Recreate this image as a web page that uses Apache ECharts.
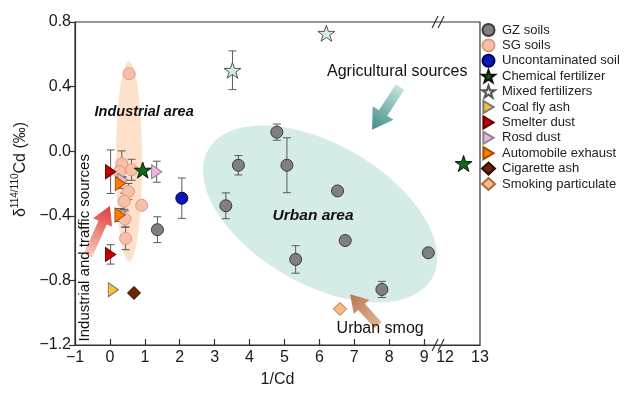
<!DOCTYPE html>
<html><head><meta charset="utf-8">
<script src="https://cdn.jsdelivr.net/npm/echarts@6/dist/echarts.min.js"></script>
<style>html,body{margin:0;padding:0;background:#fff;}#c{width:636px;height:393px;}</style>
</head><body><div id="c"></div>
<script>
// ---------- DATA ----------
const xTickValues = [-1,0,1,2,3,4,5,6,7,8,9,12,13];
const yTickValues = [-1.2,-0.8,-0.4,0.0,0.4,0.8];
const seriesNames = ['GZ soils','SG soils','Uncontaminated soil','Chemical fertilizer','Mixed fertilizers','Coal fly ash','Smelter dust','Rosd dust','Automobile exhaust','Cigarette ash','Smoking particulate'];

const gzX   = [1.36, 3.32, 3.68, 4.78, 5.07, 5.32, 6.52, 6.74, 7.79, 9.12];
const gzY   = [-0.486,-0.338,-0.087,0.118,-0.087,-0.670,-0.246,-0.553,-0.856,-0.629];
const gzErr = [0.08, 0.08, 0.06, 0.05, 0.17, 0.085, 0.02, 0.01, 0.05, 0.02];

const sgX   = [0.55, 0.34, 0.62, 0.27, 0.53, 0.41, 0.91, 0.43, 0.45];
const sgY   = [0.48, -0.078,-0.115,-0.127,-0.25,-0.31,-0.335,-0.42,-0.54];
const sgErr = [0.02, 0.08, 0.065, 0.03, 0.05, 0.05, 0.02, 0.05, 0.07];

const ucX = [2.06],  ucY = [-0.291], ucErr = [0.125];
const cfX = [0.94, 12.53], cfY = [-0.117, -0.076], cfErr = [0, 0];
const mfX = [3.51, 6.2],  mfY = [0.501, 0.73],   mfErr = [0.12, 0];
const coalX = [0.10], coalY = [-0.858], coalErr = [0];
const smX = [0.02, 0.02], smY = [-0.127, -0.639], smErr = [0.135, 0.06];
const rdX = [1.34, 0.37], rdY = [-0.127, -0.18],  rdErr = [0.065, 0.02];
const aeX = [0.30, 0.29], aeY = [-0.20, -0.395],  aeErr = [0.03, 0.04];
const caX = [0.69], caY = [-0.878], caErr = [0];
const spX = [6.59], spY = [-0.977], spErr = [0];

// ---------- AXIS BREAK (9 | 12) ----------
const BREAK_AT = 12, BREAK_SHIFT = 2.4, BREAK_MARK = 9.4;
const bx = v => v >= BREAK_AT ? v - BREAK_SHIFT : v;

// ---------- STYLES ----------
const FONT = 'Liberation Sans, Arial, sans-serif';
const STAR = 'path://M50,0 L61.8,35.1 L98.9,35.1 L69.1,56.7 L80.9,91.9 L50,70.2 L19.1,91.9 L30.9,56.7 L1.1,35.1 L38.2,35.1 Z';
const TRI = 'path://M0,0 L17,10 L0,20 Z';
const groups = [
  {x:gzX,y:gzY,e:gzErr, sym:'circle', size:12, fill:'#808080', stroke:'#3a3a3a', z:4},
  {x:sgX,y:sgY,e:sgErr, sym:'circle', size:12, fill:'#f8bfa9', stroke:'#dc9a82', z:3},
  {x:ucX,y:ucY,e:ucErr, sym:'circle', size:12, fill:'#0b17b0', stroke:'#000055', z:4},
  {x:cfX,y:cfY,e:cfErr, sym:STAR, size:17, fill:'#0a6a15', stroke:'#111', z:5},
  {x:mfX,y:mfY,e:mfErr, sym:STAR, size:17, fill:'#d2efe6', stroke:'#555', z:5},
  {x:coalX,y:coalY,e:coalErr, sym:TRI, size:[12,14], fill:'#f6c232', stroke:'#777', z:5},
  {x:smX,y:smY,e:smErr, sym:TRI, size:[12,14], fill:'#c40000', stroke:'#6a0000', z:5},
  {x:rdX,y:rdY,e:rdErr, sym:TRI, size:[12,14], fill:'#f5b0e2', stroke:'#888', z:5},
  {x:aeX,y:aeY,e:aeErr, sym:TRI, size:[12,14], fill:'#ff7c00', stroke:'#a84f00', z:5},
  {x:caX,y:caY,e:caErr, sym:'diamond', size:13, fill:'#6b2405', stroke:'#2e0c00', z:5},
  {x:spX,y:spY,e:spErr, sym:'diamond', size:13, fill:'#fdbb84', stroke:'#a86a3c', z:5}
];

// annotation shapes (in data coordinates, sizes in px)
const ellipses = [
  {c:[0.547,-0.064], a:100, b:13, rot:90, fill:'#fde1cb'},
  {c:[6.02,-0.389],  a:129, b:70, rot:30, fill:'#d4ebe7'}
];
const arrows = [
  {from:[8.31,0.397],  to:[7.51,0.133],  shaft:10, head:25, len:20, c0:'#c3e2dd', c1:'#3f8e88'},
  {from:[-0.63,-0.647],to:[0.0,-0.34],   shaft:9,  head:21, len:18, c0:'#f7cdc2', c1:'#dc3b36'},
  {from:[7.68,-1.077], to:[6.88,-0.886], shaft:9,  head:21, len:17, c0:'#dfb393', c1:'#b97750'}
];
const notes = [
  {t:'Industrial area', p:[0.98,0.243], font:'italic bold 14.5px '+FONT},
  {t:'Urban area', p:[5.82,-0.401], font:'italic bold 15.5px '+FONT},
  {t:'Agricultural sources', p:[8.23,0.495], font:'16px '+FONT},
  {t:'Urban smog', p:[7.74,-1.101], font:'16px '+FONT},
  {t:'Industrial and traffic sources', p:[-0.713,-0.598], font:'15px '+FONT, rot:90}
];

const chart = echarts.init(document.getElementById('c'));
const series = [];

series.push({
  type:'custom', name:'ellipses', z:1, silent:true, clip:false,
  data: ellipses.map((e,i)=>[e.c[0], e.c[1], i]),
  renderItem:(params, api)=>{
    const e = ellipses[api.value(2)];
    const c = api.coord([api.value(0), api.value(1)]);
    const th = e.rot*Math.PI/180, pts=[];
    for(let k=0;k<120;k++){
      const t=k/120*2*Math.PI;
      const u=e.a*Math.cos(t), v=e.b*Math.sin(t);
      pts.push([c[0]+u*Math.cos(th)-v*Math.sin(th), c[1]+u*Math.sin(th)+v*Math.cos(th)]);
    }
    return {type:'polygon', shape:{points:pts}, style:{fill:e.fill}};
  }
});

const errData = [];
groups.forEach(g=>g.x.forEach((x,i)=>errData.push([bx(x), g.y[i], g.e[i]])));
series.push({
  type:'custom', name:'errors', z:2, silent:true, clip:false,
  data: errData,
  renderItem:(params, api)=>{
    const x=api.value(0), y=api.value(1), e=api.value(2);
    if(!e) return null;
    const t=api.coord([x,y+e]), b=api.coord([x,y-e]), w=4;
    const st={stroke:'#5a5a5a', lineWidth:1};
    return {type:'group', children:[
      {type:'line', shape:{x1:t[0],y1:t[1],x2:b[0],y2:b[1]}, style:st},
      {type:'line', shape:{x1:t[0]-w,y1:t[1],x2:t[0]+w,y2:t[1]}, style:st},
      {type:'line', shape:{x1:b[0]-w,y1:b[1],x2:b[0]+w,y2:b[1]}, style:st}
    ]};
  }
});

groups.forEach((g,gi)=>{
  series.push({
    type:'scatter', name:seriesNames[gi], z:g.z,
    symbol:g.sym, symbolSize:g.size, symbolKeepAspect:true,
    itemStyle:{color:g.fill, borderColor:g.stroke, borderWidth:1, opacity:1},
    data:g.x.map((x,i)=>[bx(x), g.y[i]])
  });
});

series.push({
  type:'custom', name:'arrows', z:6, silent:true, clip:false,
  data: arrows.map((a,i)=>[a.to[0], a.to[1], i]),
  renderItem:(params, api)=>{
    const a = arrows[api.value(2)];
    const S=api.coord(a.from), T=api.coord(a.to);
    const dx=T[0]-S[0], dy=T[1]-S[1], L=Math.hypot(dx,dy);
    const ux=dx/L, uy=dy/L, nx=-uy, ny=ux;
    const B=[T[0]-ux*a.len, T[1]-uy*a.len];
    const p=(P,s)=>[P[0]+nx*s, P[1]+ny*s];
    const pts=[p(S,a.shaft/2), p(B,a.shaft/2), p(B,a.head/2), T, p(B,-a.head/2), p(B,-a.shaft/2), p(S,-a.shaft/2)];
    return {type:'polygon', shape:{points:pts}, style:{
      fill:new echarts.graphic.LinearGradient(S[0],S[1],T[0],T[1],[{offset:0,color:a.c0},{offset:1,color:a.c1}],true)}};
  }
});

series.push({
  type:'custom', name:'notes', z:7, silent:true, clip:false,
  data: notes.map((n,i)=>[n.p[0], n.p[1], i]),
  renderItem:(params, api)=>{
    const n = notes[api.value(2)];
    const c = api.coord(n.p);
    return {type:'text', x:c[0], y:c[1], rotation:(n.rot||0)*Math.PI/180,
      style:{text:n.t, font:n.font, fill:'#111', align:'center', verticalAlign:'middle'}};
  }
});

series.push({
  type:'custom', name:'breaks', z:8, silent:true, clip:false,
  data: [[BREAK_MARK, 0.8],[BREAK_MARK, -1.2]],
  renderItem:(params, api)=>{
    const c = api.coord([api.value(0), api.value(1)]);
    const st={stroke:'#333', lineWidth:1.2};
    return {type:'group', children:[-3,3].map(o=>({type:'line',
      shape:{x1:c[0]+o-3,y1:c[1]+6,x2:c[0]+o+3,y2:c[1]-6}, style:st}))};
  }
});

const fmtNum = (v,d)=> (d==null? String(v) : v.toFixed(d)).replace('-','\u2212');
const tickPos = xTickValues.map(bx);

chart.setOption({
  animation:false,
  backgroundColor:'#fff',
  grid:{left:75, right:156, top:22, bottom:45, show:true, borderColor:'#333', borderWidth:1.2, backgroundColor:'transparent'},
  legend:{
    orient:'vertical', left:481, top:23, padding:0, itemWidth:13, itemHeight:12, itemGap:1.4,
    textStyle:{fontSize:13, lineHeight:13.4, color:'#222', fontFamily:FONT, padding:[0,0,0,2]},
    data: seriesNames
  },
  xAxis:{
    type:'value', min:-1, max:10.6,
    splitLine:{show:false},
    axisLine:{onZero:false, lineStyle:{color:'#333', width:1.2}},
    axisTick:{inside:true, length:6, customValues: tickPos.filter(v=>v<=9), lineStyle:{color:'#333', width:1.2}},
    axisLabel:{customValues: tickPos, color:'#1a1a1a', fontSize:16, fontFamily:FONT, margin:5,
      formatter:v=>{const real = v>9.05 ? Math.round(v+BREAK_SHIFT) : Math.round(v); return fmtNum(real);}},
    name:'1/Cd', nameLocation:'middle', nameGap:27,
    nameTextStyle:{fontSize:16, color:'#1a1a1a', fontFamily:FONT}
  },
  yAxis:{
    type:'value', min:-1.2, max:0.8, interval:0.4,
    splitLine:{show:false},
    axisLine:{onZero:false, lineStyle:{color:'#333', width:1.2}},
    axisTick:{inside:false, length:6, lineStyle:{color:'#333', width:1.2}},
    axisLabel:{color:'#1a1a1a', fontSize:16, fontFamily:FONT, margin:4, formatter:v=>fmtNum(v,1)},
    name:'{a|\u03b4}{s|114/110}{a|Cd (\u2030)}', nameLocation:'middle', nameRotate:90, nameGap:44,
    nameTextStyle:{fontSize:16, color:'#1a1a1a', fontFamily:FONT, padding:[0,0,0,28],
      rich:{a:{fontSize:16, fontFamily:FONT, color:'#1a1a1a', lineHeight:20},
            s:{fontSize:10, fontFamily:FONT, color:'#1a1a1a', lineHeight:11, verticalAlign:'top'}}}
  },
  series
});
</script></body></html>
